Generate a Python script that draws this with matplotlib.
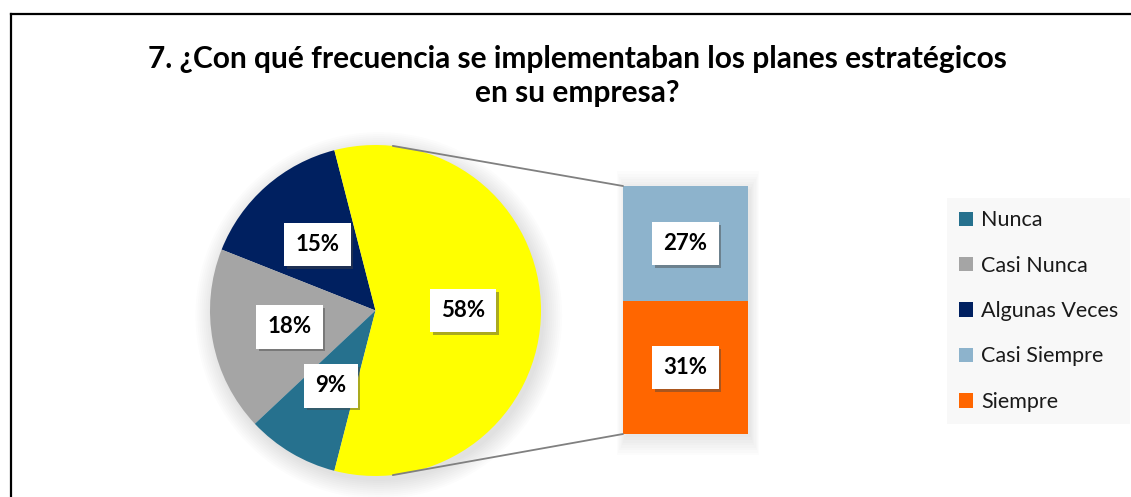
import matplotlib
matplotlib.use('Agg')
import matplotlib.pyplot as plt
from matplotlib.lines import Line2D
from matplotlib.patches import ConnectionPatch, Circle, Rectangle
import matplotlib.patheffects as pe
import numpy as np

plt.rcParams['font.family'] = ['Lato', 'DejaVu Sans']

# datos del gráfico
pie_labels = ['Algunas Veces', 'Casi Nunca', 'Nunca']
pie_values = [15, 18, 9]
pie_colors = ['#002060', '#a5a5a5', '#26718e']
bar_labels = ['Siempre', 'Casi Siempre']
bar_values = [31, 27]
bar_colors = ['#ff6600', '#8db3cc']
other_color = '#ffff00'
legend_order = ['Nunca', 'Casi Nunca', 'Algunas Veces', 'Casi Siempre', 'Siempre']
title = '7. ¿Con qué frecuencia se implementaban los planes estratégicos\nen su empresa?'

W, H = 1131, 497
fig = plt.figure(figsize=(W / 100, H / 100), dpi=100)

# marco
fig.add_artist(Line2D([10.5 / W, 10.5 / W], [0, 1 - 13.5 / H], color='black', lw=1.6))
fig.add_artist(Line2D([10.5 / W, 1], [1 - 13.5 / H, 1 - 13.5 / H], color='black', lw=1.6))

fig.text(577 / W, 1 - 76 / H, title, ha='center', va='center', fontsize=21.5,
         fontweight='bold', linespacing=1.25)

box = dict(boxstyle='square,pad=0.5', fc='white', ec='none')
shadow = [pe.withSimplePatchShadow(offset=(2, -2), shadow_rgbFace='#444444', alpha=0.45)]

# pastel
other = sum(bar_values)
vals = pie_values + [other]
ax_pie = fig.add_axes([210 / W, 1 - 476 / H, 331 / W, 331 / H])
# sombra suave
for i in range(10):
    ax_pie.add_patch(Circle((0.02, -0.03), 1.0 + 0.012 * i, color='black', alpha=0.012,
                            lw=0, clip_on=False, zorder=0))
start = 360 * other / sum(vals) / 2
wedges, texts, autotexts = ax_pie.pie(
    vals, colors=pie_colors + [other_color], startangle=start, counterclock=True,
    radius=1, autopct='%.0f%%', pctdistance=0.53,
    wedgeprops=dict(linewidth=0, zorder=2),
    textprops=dict(fontsize=16, fontweight='bold', color='black'))
for t in autotexts:
    t.set_bbox(box)
    t.set_zorder(5)
    t.get_bbox_patch().set_path_effects(shadow)
ax_pie.set_xlim(-1, 1)
ax_pie.set_ylim(-1, 1)
ax_pie.axis('off')

# barra
ax_bar = fig.add_axes([623 / W, 1 - 434 / H, 125 / W, 248 / H])
handles = {l: w for l, w in zip(pie_labels, wedges)}
for i in range(8):
    ax_bar.add_patch(Rectangle((-0.5 - 0.01 * i + 0.02, -0.8 - 0.6 * i), 1 + 0.02 * i,
                               other + 1.2 * i, color='black', alpha=0.012, lw=0,
                               clip_on=False, zorder=0))
bottom = 0
for lab, v, c in zip(bar_labels, bar_values, bar_colors):
    bc = ax_bar.bar(0, v, bottom=bottom, width=1, color=c, linewidth=0, zorder=2)
    handles[lab] = bc.patches[0]
    lbl = ax_bar.bar_label(bc, labels=[f'{v}%'], label_type='center',
                           fontsize=16, fontweight='bold')
    for t in lbl:
        t.set_bbox(box)
        t.get_bbox_patch().set_path_effects(shadow)
    bottom += v
ax_bar.set_xlim(-0.5, 0.5)
ax_bar.set_ylim(0, other)
ax_bar.axis('off')

# líneas de conexión
ang = np.deg2rad(84)
for sgn, yb in [(1, other), (-1, 0)]:
    con = ConnectionPatch(xyA=(np.cos(ang), sgn * np.sin(ang)), coordsA=ax_pie.transData,
                          xyB=(-0.5, yb), coordsB=ax_bar.transData,
                          color='#808080', lw=1.3)
    fig.add_artist(con)

# leyenda
leg = fig.legend([handles[l] for l in legend_order], legend_order,
                 loc='upper left', bbox_to_anchor=(947 / W, 1 - 198 / H),
                 frameon=True, facecolor='#f8f8f8', edgecolor='none', framealpha=1,
                 fancybox=False, fontsize=15.5, handlelength=0.65, handleheight=0.65,
                 handletextpad=0.35, labelspacing=1.18, borderpad=0.57, borderaxespad=0)
for t in leg.get_texts():
    t.set_color('#1a1a1a')

fig.savefig('out.png', dpi=100)
